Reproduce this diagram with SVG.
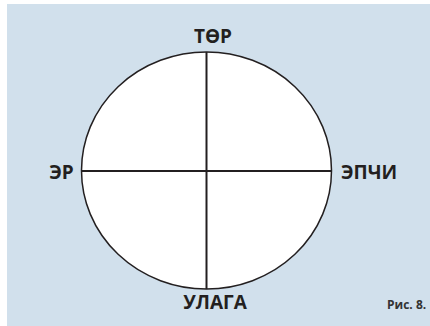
<svg xmlns="http://www.w3.org/2000/svg" width="430" height="326" viewBox="0 0 430 326">
<style>
.lbl{font-family:"Open Sans","Liberation Sans",sans-serif;font-weight:bold;font-size:19px;fill:#231f20;text-anchor:middle}
.ln{stroke:#231f20;stroke-width:2;fill:none}
</style>
<rect x="0" y="0" width="430" height="326" fill="#ffffff"/>
<rect x="7" y="4" width="423" height="322" fill="#d1e0ec"/>
<g id="circle">
<ellipse cx="206.5" cy="170.5" rx="125" ry="118.5" fill="#ffffff" stroke="#231f20" stroke-width="1.5"/>
</g>
<g id="connectors">
<line class="ln" x1="206.5" y1="52" x2="206.5" y2="289"/>
<line class="ln" x1="81.5" y1="171" x2="331.5" y2="171"/>
</g>
<g id="top"><text class="lbl" x="213" y="43">ТӨР</text></g>
<g id="left"><text class="lbl" x="61.5" y="178.5">ЭР</text></g>
<g id="right"><text class="lbl" x="369" y="178.5">ЭПЧИ</text></g>
<g id="bottom"><text class="lbl" x="215" y="308.5">УЛАГА</text></g>
<g id="caption"><text x="387" y="309" font-family="'Open Sans','Liberation Sans',sans-serif" font-weight="bold" font-size="12" fill="#333333">Рис. 8.</text></g>
</svg>
